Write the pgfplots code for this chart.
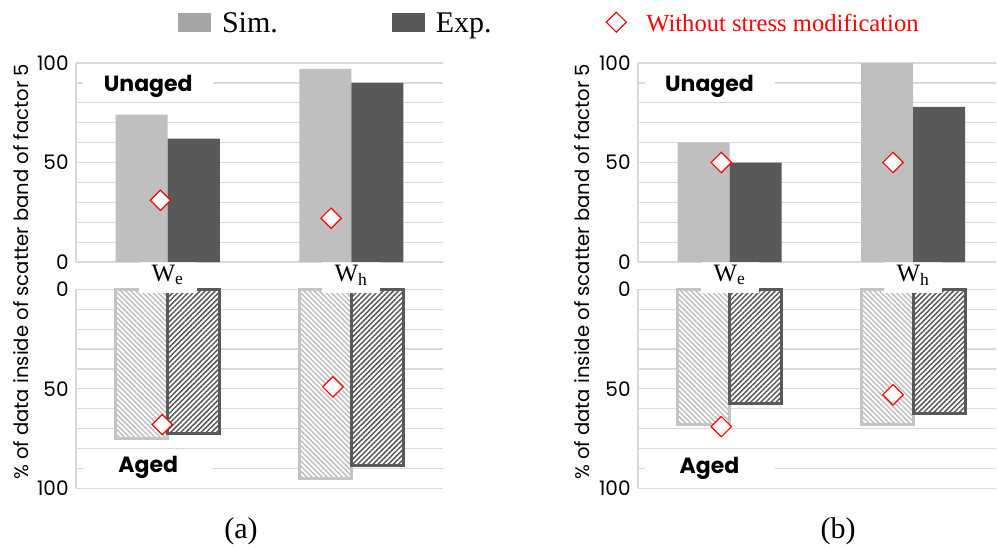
\documentclass[border=0pt]{standalone}
\usepackage{pgfplots}
\pgfplotsset{compat=1.18}
\usepackage{fontspec}
\setmainfont{Liberation Serif}
\newfontfamily\sansf{Poppins}
\usetikzlibrary{patterns.meta}
\definecolor{simc}{HTML}{BFBFBF}
\definecolor{expc}{HTML}{595959}
\definecolor{simleg}{HTML}{A6A6A6}
\definecolor{gridc}{HTML}{D9D9D9}
\definecolor{simedge}{HTML}{C4C4C4}

\tikzset{lab/.style={fill=white, font=\sansf\bfseries\fontsize{11}{12}\selectfont, minimum width=65pt, minimum height=14pt, inner sep=0pt}}

\pgfplotsset{
  base/.style={
    scale only axis,
    height=99.5pt,
    xmin=-0.5,
    ymin=0, ymax=100,
    xtick={0,1},
    ytick={0,50,100},
    minor ytick={10,20,30,40,60,70,80,90},
    ymajorgrids, yminorgrids,
    major grid style={gridc, line width=0.6pt},
    minor grid style={gridc, line width=0.6pt},
    separate axis lines,
    axis x line*=bottom, axis y line*=left,
    axis line style={gridc, line width=0.6pt, -},
    major tick length=0pt, minor tick length=0pt,
    /pgf/number format/assume math mode=true,
    yticklabel style={font=\sansf\fontsize{10}{11}\selectfont, inner sep=3.5pt},
    clip=false,
  },
  upper/.style={base,
    xticklabels={W\textsubscript{e}, W\textsubscript{h}},
    xticklabel style={anchor=center, yshift=-6.5pt, fill=white, minimum width=29pt, minimum height=18pt, inner sep=0pt, font=\fontsize{12.5}{13}\selectfont},
  },
  lower/.style={base, y dir=reverse, xticklabels={}},
  simbar/.style={ybar, bar width=26pt, bar shift=-13pt, fill=simc, draw=none, forget plot},
  expbar/.style={ybar, bar width=26pt, bar shift=13pt, fill=expc, draw=none, forget plot},
  simhatch/.style={ybar, bar width=26pt, bar shift=-13pt, draw=simedge, line width=1.4pt, preaction={fill=white}, pattern={Lines[angle=-45,distance=1.8pt,line width=0.75pt]}, pattern color=simc},
  exphatch/.style={ybar, bar width=26pt, bar shift=13pt, draw=expc, line width=1.4pt, preaction={fill=white}, pattern={Lines[angle=45,distance=1.8pt,line width=0.75pt]}, pattern color=expc},
  diam/.style={only marks, mark=square*, mark size=3.6pt, mark options={rotate=45, draw=red, fill=white, line width=0.6pt}, forget plot},
}

\begin{document}
\begin{tikzpicture}
\useasboundingbox (0,0) rectangle (498.5pt,-273.5pt);

% ---------- panel (a) lower (aged) ----------
\begin{axis}[lower, width=183.5pt, xmax=1.5, at={(38pt,-144.65pt)}, anchor=north west]
\addplot[simhatch] coordinates {(0,75) (1,95)};
\addplot[exphatch] coordinates {(0,72.5) (1,88.5)};
\addplot[diam] coordinates {(-0.03,68) (0.90,49)};
\node[lab] at (axis cs:-0.106,89.5) {Aged};
\end{axis}

% ---------- panel (a) upper (unaged) ----------
\begin{axis}[upper, width=183.5pt, xmax=1.5, at={(38pt,-131pt)}, anchor=south west,
  legend style={at={(axis description cs:0.278,1.198)}, anchor=west, draw=none, fill=none,
    legend columns=3, inner sep=0pt, outer sep=0pt, nodes={inner sep=0pt},
    /tikz/every odd column/.append style={column sep=5.5pt},
    /tikz/every even column/.append style={column sep=57pt}}]
\addplot[simbar] coordinates {(0,74) (1,97)};
\addplot[expbar] coordinates {(0,62) (1,90)};
\addplot[diam] coordinates {(-0.04,31) (0.89,22)};
\node[lab] at (axis cs:-0.106,88.4) {Unaged};
\addlegendimage{legend image code/.code={\path[draw=none, fill=simleg] (0pt,-4pt) rectangle (16.5pt,5.5pt);}}
\addlegendentry{\fontsize{15}{16}\selectfont Sim.}
\addlegendimage{legend image code/.code={\path[draw=none, fill=expc] (0pt,-4pt) rectangle (16.5pt,5.5pt);}}
\addlegendentry{\fontsize{15}{16}\selectfont Exp.}
\addlegendimage{legend image code/.code={\draw[red, fill=white, line width=0.6pt] (0pt,1pt) -- (5pt,6pt) -- (10pt,1pt) -- (5pt,-4pt) -- cycle; \path[draw=none, fill=none] (10pt,1pt) -- (14.5pt,1pt);}}
\addlegendentry{\color{red}\fontsize{12.3}{13}\selectfont Without stress modification}
\end{axis}

% ---------- panel (b) lower (aged) ----------
\begin{axis}[lower, width=178.9pt, xmax=1.45, at={(319pt,-144.65pt)}, anchor=north west]
\addplot[simhatch] coordinates {(0,68) (1,68)};
\addplot[exphatch] coordinates {(0,57.5) (1,62.5)};
\addplot[diam] coordinates {(-0.046,69) (0.89,53)};
\node[lab] at (axis cs:-0.11,90) {Aged};
\end{axis}

% ---------- panel (b) upper (unaged) ----------
\begin{axis}[upper, width=178.9pt, xmax=1.45, at={(319pt,-131pt)}, anchor=south west]
\addplot[simbar] coordinates {(0,60) (1,100)};
\addplot[expbar] coordinates {(0,50) (1,78)};
\addplot[diam] coordinates {(-0.046,50) (0.89,50)};
\node[lab] at (axis cs:-0.11,88.4) {Unaged};
\end{axis}

% labels
\node[rotate=90, font=\sansf\fontsize{9.8}{10}\selectfont] at (10.5pt,-136pt) {\% of data inside of scatter band of factor 5};
\node[rotate=90, font=\sansf\fontsize{9.8}{10}\selectfont] at (291pt,-136pt) {\% of data inside of scatter band of factor 5};
\node[font=\fontsize{15}{16}\selectfont] at (120.5pt,-265.5pt) {(a)};
\node[font=\fontsize{15}{16}\selectfont] at (419pt,-265.5pt) {(b)};
\end{tikzpicture}
\end{document}
